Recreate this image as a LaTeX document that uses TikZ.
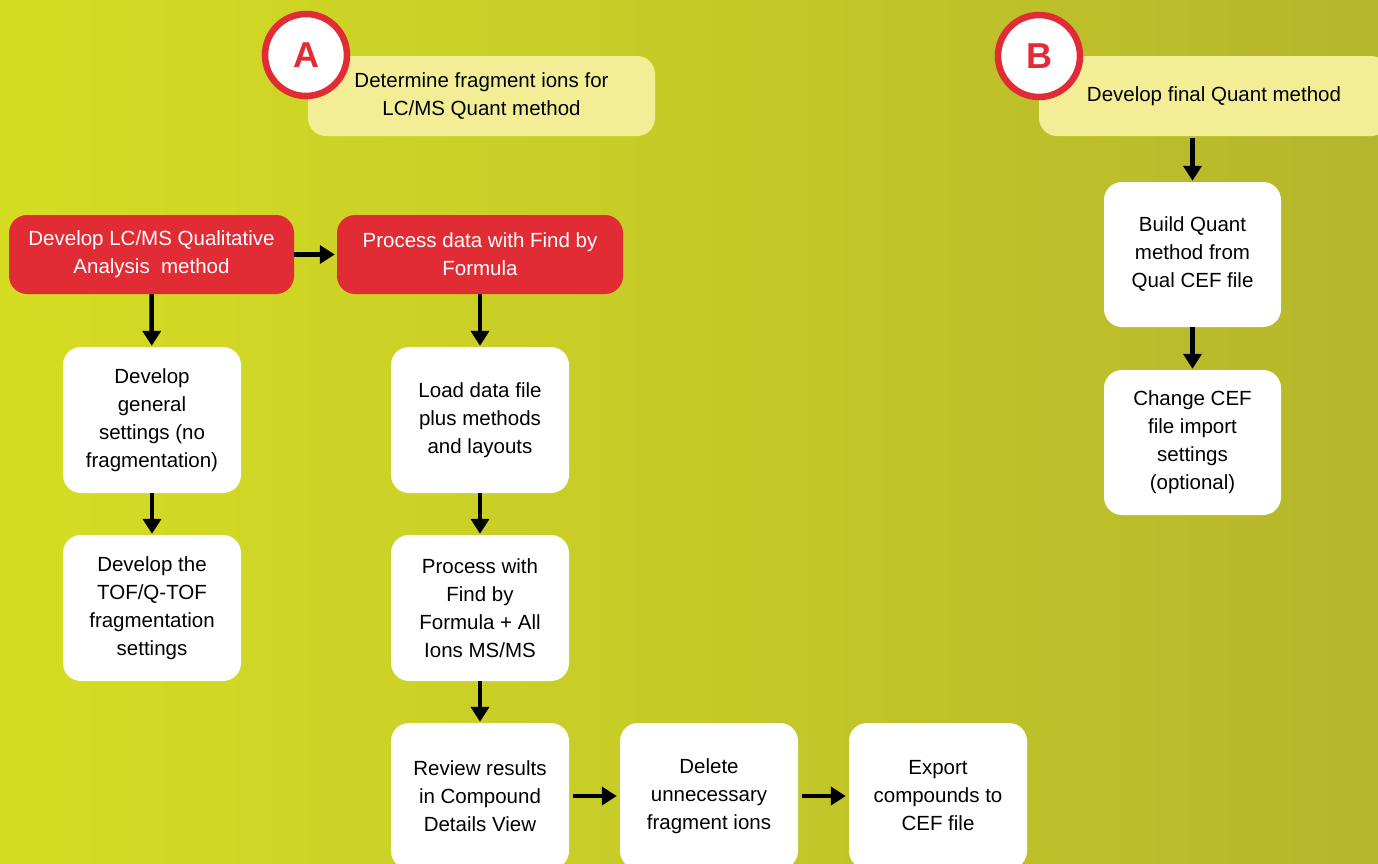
\documentclass[tikz,border=0pt]{standalone}
\usepackage{fontspec}
\setmainfont{Liberation Sans}
\usetikzlibrary{arrows.meta}
\definecolor{boxred}{RGB}{225,44,54}
\definecolor{paleyellow}{RGB}{243,238,150}
\definecolor{bgL}{RGB}{213,221,35}
\definecolor{bgM}{RGB}{198,202,40}
\definecolor{bgR}{RGB}{182,182,44}
\begin{document}
\begin{tikzpicture}[x=1pt,y=-1pt,
  base/.style={rounded corners=18pt, align=center, inner sep=0pt,
    font=\fontsize{20.5}{28}\selectfont},
  redbox/.style={base, fill=boxred, text=white, minimum width=285pt, minimum height=79pt},
  whitebox/.style={base, fill=white, text=black, minimum width=178pt, minimum height=146pt},
  headbox/.style={base, fill=paleyellow, text=black, minimum height=80pt},
  badge/.style={circle, fill=white, draw=boxred, line width=6.5pt, minimum size=82pt,
    inner sep=0pt, text=boxred, font=\fontsize{36}{36}\bfseries\selectfont},
  flow/.style={line width=4.5pt, -{Triangle[length=15pt,width=18pt]}}
]
\useasboundingbox (0,0) rectangle (1378,863);
\clip (0,0) rectangle (1378,863);
% background
\shade[left color=bgL, right color=bgR, middle color=bgM] (0,0) rectangle (1378,863);

% stage headers
\node[headbox, minimum width=347pt] (hA) at (481.5,96) {Determine fragment ions for\\LC/MS Quant method};
\node[badge] (cA) at (306,55) {\raisebox{-2pt}{A}};
\node[headbox, minimum width=350pt] (hB) at (1214,96) {Develop final Quant method};
\node[badge] (cB) at (1039,56) {\raisebox{-2pt}{B}};

% stage A
\node[redbox] (r1) at (151.5,254.5) {Develop LC/MS Qualitative\\Analysis\ \ method};
\node[redbox, minimum width=286pt] (r2) at (480,254.5) {Process data with Find by\\Formula};
\node[whitebox] (l1) at (152,420) {Develop\\general\\settings (no\\fragmentation)};
\node[whitebox] (l2) at (152,608) {Develop the\\TOF/Q-TOF\\fragmentation\\settings};
\node[whitebox] (m1) at (480,420) {Load data file\\plus methods\\and layouts};
\node[whitebox] (m2) at (480,608) {Process with\\Find by\\Formula + All\\Ions MS/MS};
\node[whitebox] (m3) at (480,796) {Review results\\in Compound\\Details View};
\node[whitebox] (d) at (709,796) {Delete\\unnecessary\\fragment ions};
\node[whitebox] (e) at (938,796) {Export\\compounds to\\CEF file};

% stage B
\node[whitebox, minimum width=177pt, minimum height=145pt] (b1) at (1192.5,254.5) {Build Quant\\method from\\Qual CEF file};
\node[whitebox, minimum width=177pt, minimum height=145pt] (b2) at (1192.5,442.5) {Change CEF\\file import\\settings\\(optional)};

% connectors
\draw[flow, shorten >=2pt] (r1) -- (r2);
\draw[flow, shorten >=1pt] (r1) -- (l1);
\draw[flow, shorten >=1pt] (l1) -- (l2);
\draw[flow, shorten >=1pt] (r2) -- (m1);
\draw[flow, shorten >=1pt] (m1) -- (m2);
\draw[flow, shorten >=1pt] (m2) -- (m3);
\draw[flow, shorten <=4pt, shorten >=3pt] (m3) -- (d);
\draw[flow, shorten <=4pt, shorten >=3pt] (d) -- (e);
\draw[flow, shorten <=2pt, shorten >=1pt] (hB.south -| b1) -- (b1);
\draw[flow, shorten >=1pt] (b1) -- (b2);
\end{tikzpicture}
\end{document}
